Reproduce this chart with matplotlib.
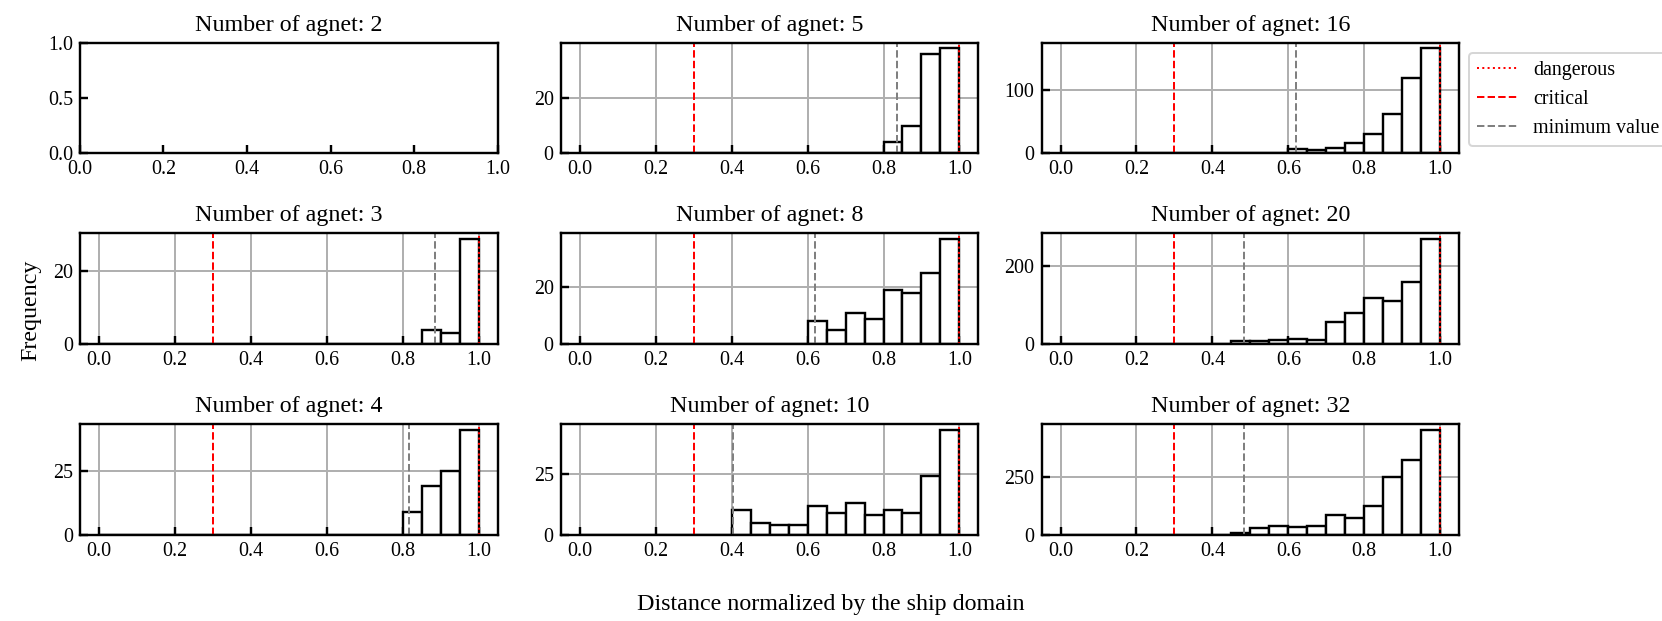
import numpy as np
import matplotlib
matplotlib.use("Agg")
import matplotlib.pyplot as plt

plt.rcParams['font.family'] = ['Liberation Serif', 'DejaVu Serif']
plt.rcParams['font.size'] = 10
plt.rcParams['mathtext.fontset'] = 'stix'

# ---- data ----
bin_edges = np.round(np.arange(0, 1.0001, 0.05), 2)
bin_left = bin_edges[:-1]

agents_grid = [[2, 5, 16], [3, 8, 20], [4, 10, 32]]

counts_2 = None  # empty panel
counts_3 = [0]*17 + [4, 3, 29]
counts_4 = [0]*16 + [9, 19, 25, 41]
counts_5 = [0]*16 + [4, 10, 36, 38]
counts_8 = [0]*12 + [8, 5, 11, 9, 19, 18, 25, 37]
counts_10 = [0]*8 + [10, 5, 4, 4, 12, 9, 13, 8, 10, 9, 24, 43]
counts_16 = [0]*12 + [7, 6, 9, 16, 31, 61, 118, 165]
counts_20 = [0]*9 + [9, 7, 10, 14, 12, 57, 80, 118, 111, 159, 271]
counts_32 = [0]*9 + [7, 29, 40, 33, 40, 85, 72, 123, 251, 325, 454]

counts = {2: counts_2, 3: counts_3, 4: counts_4, 5: counts_5, 8: counts_8,
          10: counts_10, 16: counts_16, 20: counts_20, 32: counts_32}
min_values = {3: 0.884, 4: 0.816, 5: 0.836, 8: 0.620, 10: 0.404,
              16: 0.620, 20: 0.483, 32: 0.482}
y_ticks = {3: [0, 20], 4: [0, 25], 5: [0, 20], 8: [0, 20], 10: [0, 25],
           16: [0, 100], 20: [0, 200], 32: [0, 250]}
critical = 0.3
dangerous = 1.0

fig, axes = plt.subplots(3, 3, figsize=(1662/144, 621/144), dpi=144)
fig.subplots_adjust(left=0.0481, right=0.878, top=0.9312, bottom=0.1385,
                    wspace=0.151, hspace=0.723)

for r in range(3):
    for c in range(3):
        ax = axes[r, c]
        n = agents_grid[r][c]
        ax.set_title(f"Number of agnet: {n}", fontsize=12)
        ax.tick_params(direction='in', length=4, width=1.2, labelsize=10,
                       top=False, right=False)
        for s in ax.spines.values():
            s.set_linewidth(1.2)
        if counts[n] is None:
            ax.set_xlim(0, 1)
            ax.set_ylim(0, 1)
            ax.set_yticks([0.0, 0.5, 1.0])
            continue
        ax.set_axisbelow(True)
        ax.grid(True, color='#b0b0b0', linewidth=1.0)
        ax.hist(bin_left, bins=bin_edges, weights=counts[n], color='white',
                edgecolor='black', linewidth=1.2)
        l1 = ax.axvline(dangerous, color='red', linestyle=':', linewidth=1.0,
                        label='dangerous')
        l2 = ax.axvline(critical, color='red', linestyle='--', linewidth=1.0,
                        label='critical')
        l3 = ax.axvline(min_values[n], color='gray', linestyle='--', linewidth=1.0,
                        label='minimum value')
        ax.set_yticks(y_ticks[n])
        ax.set_xticks([0.0, 0.2, 0.4, 0.6, 0.8, 1.0])
        if r == 0 and c == 2:
            ax.legend(handles=[l1, l2, l3], loc='upper left',
                      bbox_to_anchor=(1.0, 1.0), fontsize=10)

fig.supxlabel("Distance normalized by the ship domain", fontsize=12, y=0.01)
fig.supylabel("Frequency", fontsize=12, x=0.012)

fig.savefig("out.png", dpi=144)
